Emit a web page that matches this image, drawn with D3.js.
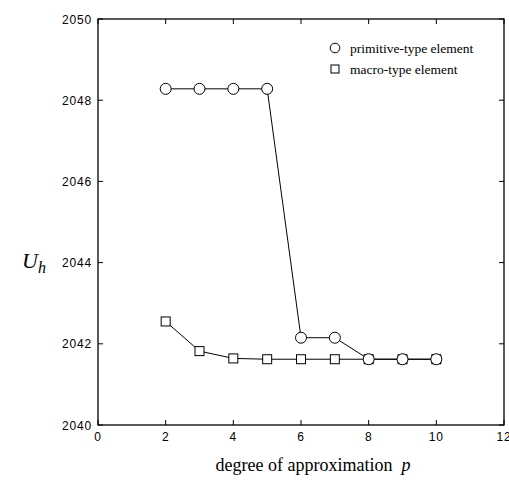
<!DOCTYPE html>
<html><head><meta charset="utf-8">
<script src="https://cdn.jsdelivr.net/npm/d3@7"></script>
<style>body{margin:0;background:#fff}</style>
</head><body>
<svg id="c" width="509" height="482"></svg>
<script>
const degrees = [2,3,4,5,6,7,8,9,10];
const primitive = [2048.28,2048.28,2048.28,2048.28,2042.15,2042.15,2041.62,2041.62,2041.62];
const macro = [2042.55,2041.82,2041.64,2041.62,2041.62,2041.62,2041.62,2041.62,2041.62];
const xTicks = [0,2,4,6,8,10,12];
const yTicks = [2040,2042,2044,2046,2048,2050];
const seriesNames = ["primitive-type element","macro-type element"];

const svg = d3.select("#c");
const L=98, R=504, T=19, B=425;
const x = d3.scaleLinear().domain([0,12]).range([L,R]);
const y = d3.scaleLinear().domain([2040,2050]).range([B,T]);
const tickFont = "Liberation Sans, Arial, sans-serif";

const tl = 5;
const g = svg.append("g").attr("stroke","#000").attr("stroke-width",1);
xTicks.forEach(v=>{
  g.append("line").attr("x1",x(v)).attr("x2",x(v)).attr("y1",B).attr("y2",B-tl);
  g.append("line").attr("x1",x(v)).attr("x2",x(v)).attr("y1",T).attr("y2",T+tl);
});
yTicks.forEach(v=>{
  g.append("line").attr("x1",L).attr("x2",L+tl).attr("y1",y(v)).attr("y2",y(v));
  g.append("line").attr("x1",R).attr("x2",R-tl).attr("y1",y(v)).attr("y2",y(v));
});
svg.append("rect").attr("x",L).attr("y",T).attr("width",R-L).attr("height",B-T)
  .attr("fill","none").attr("stroke","#000").attr("stroke-width",1.3);

xTicks.forEach(v=>{
  svg.append("text").attr("x",x(v)).attr("y",B+16).attr("text-anchor","middle")
    .attr("font-family",tickFont).attr("font-size",12).attr("letter-spacing",0.8).text(v);
});
yTicks.forEach(v=>{
  svg.append("text").attr("x",L-6).attr("y",y(v)+4.5).attr("text-anchor","end")
    .attr("font-family",tickFont).attr("font-size",12).attr("letter-spacing",0.8).text(v);
});

svg.append("text").attr("x",313).attr("y",471).attr("text-anchor","middle")
  .attr("font-family","Liberation Serif, Times New Roman, serif").attr("font-size",18)
  .html('degree of approximation&#160;&#160;<tspan font-style="italic">p</tspan>');
svg.append("text").attr("x",22).attr("y",268)
  .attr("font-family","Liberation Serif, Times New Roman, serif").attr("font-size",22).attr("font-style","italic")
  .html('U<tspan font-size="16" dy="5">h</tspan>');

const line = d3.line().x((d,i)=>x(degrees[i])).y(d=>y(d));
svg.append("path").attr("d",line(macro)).attr("fill","none").attr("stroke","#000").attr("stroke-width",1);
svg.append("path").attr("d",line(primitive)).attr("fill","none").attr("stroke","#000").attr("stroke-width",1);

const s=9;
svg.append("g").selectAll("rect").data(macro).join("rect")
  .attr("x",(d,i)=>x(degrees[i])-s/2).attr("y",d=>y(d)-s/2).attr("width",s).attr("height",s)
  .attr("fill","#fff").attr("stroke","#000").attr("stroke-width",1);
svg.append("g").selectAll("circle").data(primitive).join("circle")
  .attr("cx",(d,i)=>x(degrees[i])).attr("cy",d=>y(d)).attr("r",5.5)
  .attr("fill","#fff").attr("stroke","#000").attr("stroke-width",1);

const lg = svg.append("g");
lg.append("circle").attr("cx",335).attr("cy",48).attr("r",4.8).attr("fill","#fff").attr("stroke","#000");
lg.append("rect").attr("x",331).attr("y",65).attr("width",8).attr("height",8).attr("fill","#fff").attr("stroke","#000");
lg.append("text").attr("x",350).attr("y",52.5).attr("font-family","Liberation Serif, Times New Roman, serif")
  .attr("font-size",13.5).text(seriesNames[0]);
lg.append("text").attr("x",350).attr("y",73.5).attr("font-family","Liberation Serif, Times New Roman, serif")
  .attr("font-size",13.5).text(seriesNames[1]);
</script>
</body></html>
